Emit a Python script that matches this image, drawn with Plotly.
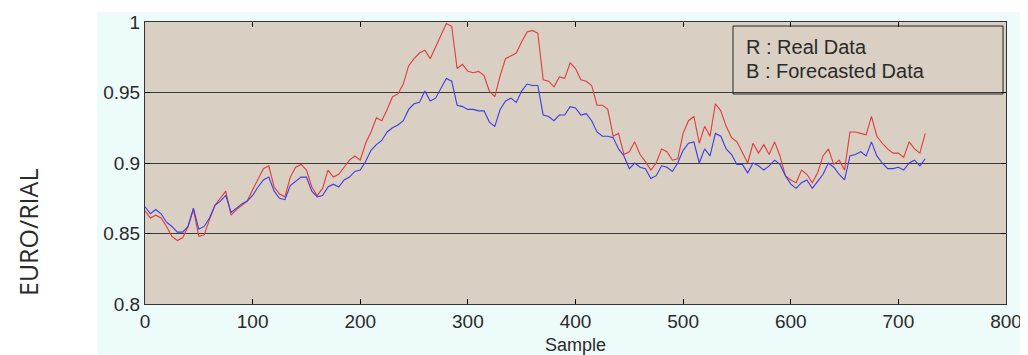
import plotly.graph_objects as go

samples = list(range(0, 726, 5))

real_data = [
    0.866, 0.861, 0.863, 0.861, 0.855, 0.848, 0.845, 0.847, 0.855, 0.867,
    0.848, 0.849, 0.860, 0.870, 0.875, 0.880, 0.863, 0.867, 0.870, 0.873,
    0.881, 0.889, 0.896, 0.898, 0.883, 0.878, 0.876, 0.890, 0.897, 0.899,
    0.895, 0.883, 0.877, 0.882, 0.895, 0.890, 0.892, 0.897, 0.902, 0.905,
    0.902, 0.914, 0.922, 0.932, 0.930, 0.938, 0.947, 0.949, 0.956, 0.969,
    0.974, 0.978, 0.980, 0.974, 0.982, 0.991, 0.999, 0.997, 0.967, 0.970,
    0.965, 0.964, 0.965, 0.962, 0.951, 0.947, 0.962, 0.974, 0.976, 0.978,
    0.986, 0.993, 0.994, 0.992, 0.959, 0.958, 0.954, 0.961, 0.960, 0.971,
    0.967, 0.959, 0.958, 0.955, 0.941, 0.941, 0.938, 0.919, 0.921, 0.906,
    0.908, 0.915, 0.906, 0.901, 0.895, 0.900, 0.910, 0.908, 0.902, 0.903,
    0.921, 0.930, 0.933, 0.914, 0.926, 0.919, 0.942, 0.937, 0.926, 0.918,
    0.915, 0.908, 0.900, 0.914, 0.907, 0.913, 0.906, 0.915, 0.905, 0.891,
    0.888, 0.886, 0.895, 0.892, 0.886, 0.893, 0.905, 0.910, 0.899, 0.902,
    0.895, 0.922, 0.922, 0.921, 0.920, 0.933, 0.919, 0.914, 0.910, 0.907,
    0.907, 0.904, 0.915, 0.910, 0.907, 0.921,
]

forecast_data = [
    0.869, 0.864, 0.867, 0.864, 0.858, 0.855, 0.851, 0.851, 0.855, 0.868,
    0.853, 0.855, 0.861, 0.870, 0.873, 0.877, 0.865, 0.868, 0.871, 0.873,
    0.877, 0.883, 0.888, 0.890, 0.880, 0.875, 0.874, 0.884, 0.887, 0.890,
    0.890, 0.880, 0.876, 0.877, 0.883, 0.885, 0.883, 0.888, 0.890, 0.894,
    0.895, 0.901, 0.909, 0.913, 0.916, 0.922, 0.925, 0.927, 0.930, 0.938,
    0.942, 0.943, 0.951, 0.944, 0.946, 0.953, 0.960, 0.958, 0.941, 0.940,
    0.938, 0.938, 0.937, 0.937, 0.929, 0.926, 0.938, 0.944, 0.946, 0.943,
    0.951, 0.956, 0.955, 0.955, 0.934, 0.933, 0.930, 0.934, 0.934, 0.940,
    0.939, 0.934, 0.935, 0.930, 0.922, 0.919, 0.919, 0.918, 0.910, 0.905,
    0.896, 0.900, 0.897, 0.896, 0.889, 0.891, 0.898, 0.897, 0.894, 0.900,
    0.909, 0.914, 0.915, 0.900, 0.910, 0.905, 0.921, 0.919, 0.910, 0.906,
    0.899, 0.899, 0.893, 0.900, 0.898, 0.895, 0.898, 0.902, 0.899, 0.891,
    0.885, 0.882, 0.886, 0.888, 0.882, 0.887, 0.892, 0.900, 0.897, 0.892,
    0.888, 0.905, 0.906, 0.908, 0.905, 0.915, 0.905, 0.900, 0.896, 0.896,
    0.897, 0.895, 0.900, 0.902, 0.898, 0.903,
]

x_ticks = [0, 100, 200, 300, 400, 500, 600, 700, 800]
y_ticks = [0.8, 0.85, 0.9, 0.95, 1.0]
y_tick_labels = ["0.8", "0.85", "0.9", "0.95", "1"]
legend_lines = ["R : Real Data", "B : Forecasted Data"]

# page body has an 8px margin; figure sized to fill the rest of the window
OFF = 8
W, H = 1028 - OFF, 355 - OFF
L, T = 145 - OFF, 22 - OFF
R = W - (1006 - OFF)
B = H - (304 - OFF)
PW, PH = W - L - R, H - T - B


def px(xp):
    return (xp - OFF - L) / PW


def py(yp):
    return (H - (yp - OFF) - B) / PH


fig = go.Figure()
fig.add_trace(go.Scatter(x=samples, y=real_data, mode="lines",
                         line=dict(color="#e03c3c", width=1.1), name="Real"))
fig.add_trace(go.Scatter(x=samples, y=forecast_data, mode="lines",
                         line=dict(color="#3c3ce6", width=1.1), name="Forecast"))

FONT = "Liberation Sans, Arial, sans-serif"
tick_font = dict(family=FONT, size=19, color="#2a2a2a")

fig.update_layout(
    width=W, height=H,
    margin=dict(l=L, r=R, t=T, b=B, autoexpand=False),
    paper_bgcolor="white",
    plot_bgcolor="#d9cfc3",
    showlegend=False,
    xaxis=dict(range=[0, 800], tickvals=x_ticks, ticks="inside", ticklen=5,
               tickcolor="black", showgrid=False, zeroline=False, automargin=False,
               showline=True, linecolor="#333333", linewidth=1, mirror="ticks",
               tickfont=tick_font,
               title=dict(text="Sample", font=dict(family=FONT, size=18, color="#2a2a2a"), standoff=7)),
    yaxis=dict(range=[0.8, 1.0], tickvals=y_ticks, ticktext=y_tick_labels,
               ticks="inside", ticklen=5, tickcolor="black", automargin=False,
               showgrid=True, gridcolor="#3a3a3a", gridwidth=1, zeroline=False,
               showline=True, linecolor="#333333", linewidth=1, mirror="ticks",
               tickfont=tick_font),
    shapes=[
        dict(type="rect", xref="paper", yref="paper", layer="below",
             x0=px(97), x1=px(1030), y0=py(360), y1=py(12),
             fillcolor="#eefbfb", line=dict(width=0)),
        dict(type="rect", xref="paper", yref="paper", layer="below",
             x0=0, x1=1, y0=0, y1=1,
             fillcolor="#d9cfc3", line=dict(width=0)),
        dict(type="rect", xref="paper", yref="paper",
             x0=px(733), x1=px(1003), y0=py(94), y1=py(26),
             line=dict(color="#222222", width=1), fillcolor="rgba(0,0,0,0)"),
    ],
    annotations=[
        dict(text=legend_lines[0], xref="paper", yref="paper",
             x=px(744), y=py(47), xanchor="left", yanchor="middle", showarrow=False,
             font=dict(family=FONT, size=20, color="#2a2a2a")),
        dict(text=legend_lines[1], xref="paper", yref="paper",
             x=px(744), y=py(71), xanchor="left", yanchor="middle", showarrow=False,
             font=dict(family=FONT, size=20, color="#2a2a2a")),
        dict(text="EURO/RIAL", xref="paper", yref="paper",
             x=px(9), y=py(233), xanchor="left", yanchor="middle",
             textangle=-90, showarrow=False,
             font=dict(family="Open Sans, sans-serif", size=25, color="#2a2a2a")),
    ],
)

fig.write_html("out.html")
